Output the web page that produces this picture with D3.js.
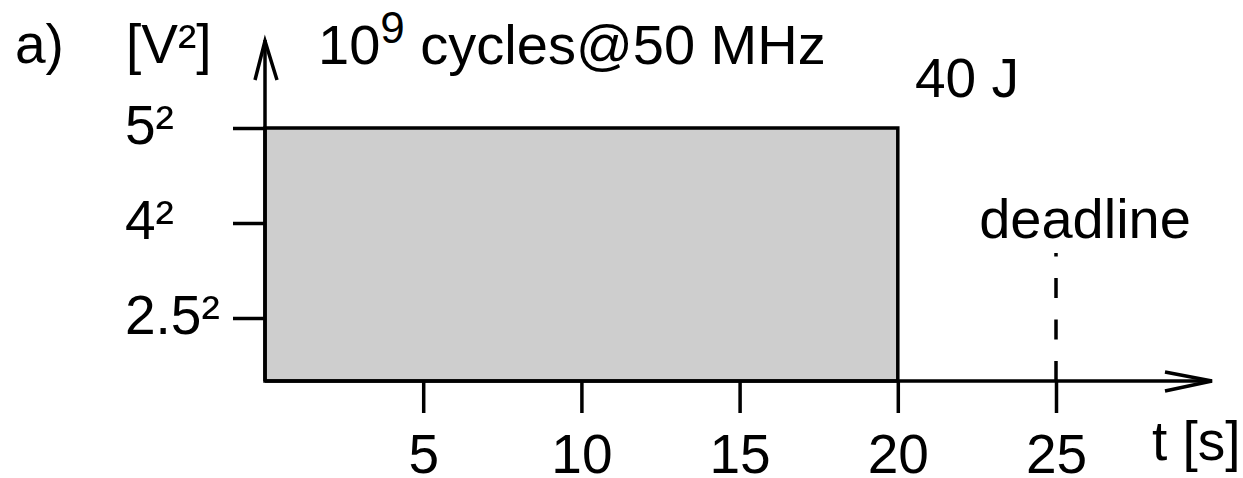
<!DOCTYPE html>
<html>
<head>
<meta charset="utf-8">
<script src="https://cdn.jsdelivr.net/npm/d3@7"></script>
<style>
  body { margin: 0; background: #fff; }
  svg text { font-family: "Liberation Sans", Arial, sans-serif; fill: #000; }
</style>
</head>
<body>
<div id="chart"></div>
<script>
// energy diagram: one task running at 5V for 20s, deadline at 25s

const xTicks = [5, 10, 15, 20, 25];
const yLabels = ["2.5²", "4²", "5²"];
const taskStart = [0];
const taskEnd = [20];
const taskLevel = ["5²"];
const deadline = 25;

const width = 1243,
      height = 478,
      x0 = 265,      // where the axes cross
      y0 = 381,
      sw = 3.5,
      fontSize = 55;

let svg = d3.select("#chart")
    .append("svg")
    .attr("width", width)
    .attr("height", height);

let x = d3.scaleLinear()
    .domain([0, 25])
    .range([x0, 1056]);

// voltage levels are not to scale in the drawing, just spaced out
let y = d3.scalePoint()
    .domain(yLabels)
    .range([318, 128]);

// the task block
svg.selectAll(".task")
    .data(taskStart.map((s, i) => ({ s: s, e: taskEnd[i], v: taskLevel[i] })))
    .join("rect")
    .attr("class", "task")
    .attr("x", d => x(d.s))
    .attr("y", d => y(d.v))
    .attr("width", d => x(d.e) - x(d.s))
    .attr("height", d => y0 - y(d.v))
    .attr("fill", "#cecece")
    .attr("stroke", "#000")
    .attr("stroke-width", sw);

// x ticks + labels
let xAxis = svg.append("g")
    .attr("transform", `translate(0,${y0})`)
    .call(d3.axisBottom(x).tickValues(xTicks).tickSize(32).tickSizeOuter(0));
xAxis.select(".domain").remove();
xAxis.selectAll("line").attr("stroke", "#000").attr("stroke-width", sw);
xAxis.selectAll("text")
    .attr("font-size", fontSize)
    .attr("font-family", null)
    .attr("dy", null)
    .attr("y", 92);

// y ticks, labels are left aligned in the original
let yAxis = svg.append("g")
    .attr("transform", `translate(${x0},0)`)
    .call(d3.axisLeft(y).tickSize(32).tickSizeOuter(0));
yAxis.select(".domain").remove();
yAxis.selectAll("line").attr("stroke", "#000").attr("stroke-width", sw);
yAxis.selectAll("text")
    .attr("font-size", fontSize)
    .attr("font-family", null)
    .attr("text-anchor", "start")
    .attr("dy", null)
    .attr("x", 125 - x0)
    .attr("y", 15);

// axis lines with open arrowheads
let line = d3.line();
let stroke = sel => sel.attr("stroke", "#000").attr("stroke-width", sw).attr("fill", "none");
svg.append("path").attr("d", line([[x0, y0], [x0, 40]])).call(stroke);
svg.append("path").attr("d", line([[255, 80], [x0, 41], [277, 80]])).call(stroke);
svg.append("path").attr("d", line([[x0, y0], [1212, y0]])).call(stroke);
svg.append("path").attr("d", line([[1165, 372], [1212, y0], [1165, 391]])).call(stroke);

// deadline marker
svg.append("path")
    .attr("d", line([[x(deadline), y0], [x(deadline), 253]]))
    .call(stroke)
    .attr("stroke-dasharray", "20,21.5");

svg.append("text")
    .attr("x", x(deadline) + 29).attr("y", 238)
    .attr("text-anchor", "middle")
    .attr("font-size", 56)
    .text("deadline");

// labels
svg.append("text").attr("x", 15).attr("y", 63).attr("font-size", fontSize).text("a)");
svg.append("text").attr("x", 126).attr("y", 63).attr("font-size", fontSize).text("[V²]");
svg.append("text").attr("x", 1152).attr("y", 460).attr("font-size", fontSize).text("t [s]");
svg.append("text").attr("x", 915).attr("y", 97).attr("font-size", fontSize).text("40 J");

let title = svg.append("text").attr("x", 318).attr("y", 64).attr("font-size", 56);
title.append("tspan").text("10");
title.append("tspan").attr("dy", -21).attr("font-size", 44).text("9");
title.append("tspan").attr("dy", 21).text(" cycles@50 MHz");
</script>
</body>
</html>
